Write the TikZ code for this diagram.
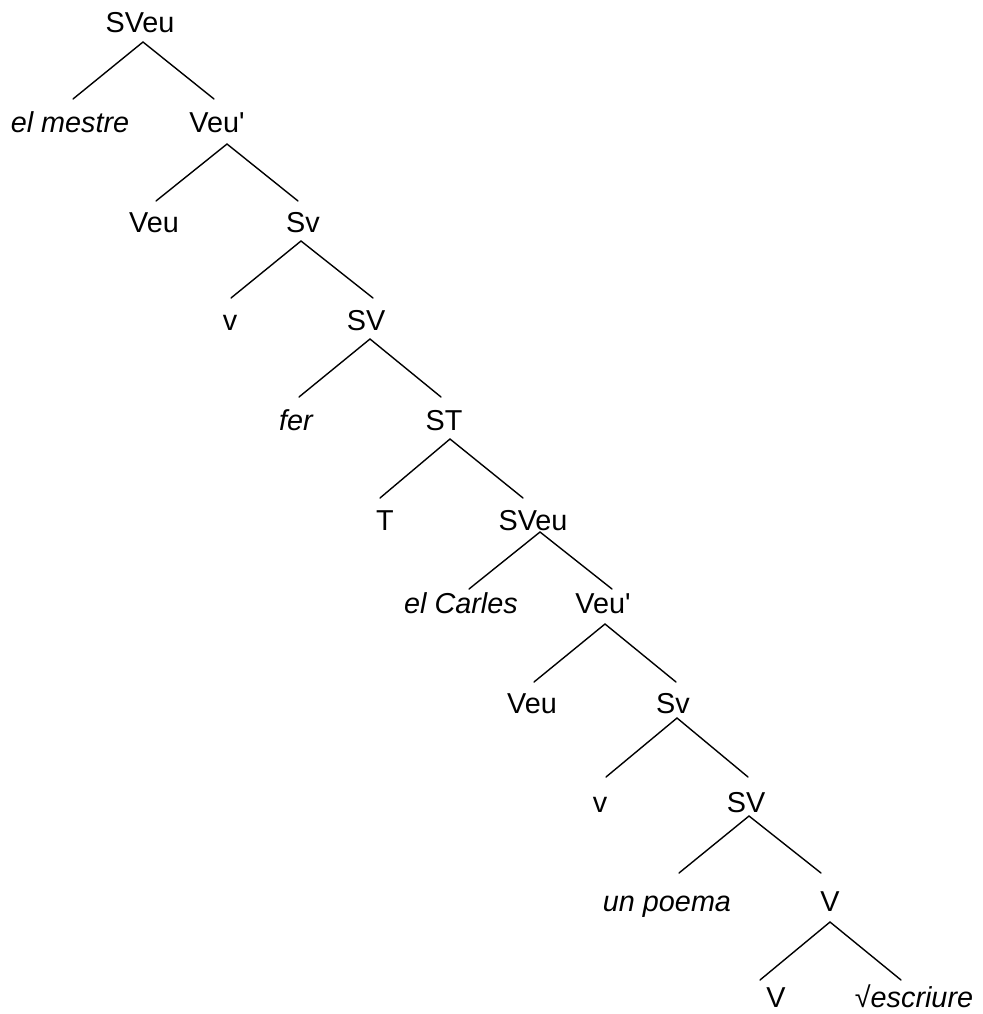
\documentclass[tikz,border=0pt]{standalone}
\usepackage{fontspec}
\setmainfont{Liberation Sans}
\begin{document}
\begin{tikzpicture}[x=1pt,y=-1pt,
  lbl/.style={anchor=base,inner sep=0pt,font=\fontsize{28.8}{34}\selectfont},
  it/.style={lbl,font=\fontsize{28.8}{34}\selectfont\itshape},
  branch/.style={line width=1.4pt,line cap=round}]
\useasboundingbox (0,0) rectangle (982,1014);

% labels, placed on their baselines
\node[lbl] (n0)  at (140,33)  {SVeu};
\node[it]  (n1a) at (70,132)  {el mestre};
\node[lbl] (n1b) at (217,132) {Veu\textquotesingle};
\node[lbl] (n2a) at (154,232) {Veu};
\node[lbl] (n2b) at (303,232) {Sv};
\node[lbl] (n3a) at (230,330) {v};
\node[lbl] (n3b) at (366,330) {SV};
\node[it]  (n4a) at (296,430) {fer};
\node[lbl] (n4b) at (444,430) {ST};
\node[lbl] (n5a) at (385,530) {T};
\node[lbl] (n5b) at (533,530) {SVeu};
\node[it]  (n6a) at (461,613) {el Carles};
\node[lbl] (n6b) at (603,613) {Veu\textquotesingle};
\node[lbl] (n7a) at (532,713) {Veu};
\node[lbl] (n7b) at (673,713) {Sv};
\node[lbl] (n8a) at (600,812) {v};
\node[lbl] (n8b) at (746,812) {SV};
\node[it]  (n9a) at (667,911) {un poema};
\node[lbl] (n9b) at (830,911) {V};
\node[lbl] (n10a) at (776,1007) {V};
\node[lbl] (n10b) at (914,1007) {√\textit{escriure}};

% branch tops and feet
\coordinate (t0) at (143,42);  \coordinate (l0) at (73,99);   \coordinate (r0) at (214,99);
\coordinate (t1) at (227,144); \coordinate (l1) at (156,201); \coordinate (r1) at (298,201);
\coordinate (t2) at (301,241); \coordinate (l2) at (231,298); \coordinate (r2) at (373,298);
\coordinate (t3) at (370,339); \coordinate (l3) at (299,397); \coordinate (r3) at (441,397);
\coordinate (t4) at (450,439); \coordinate (l4) at (380,498); \coordinate (r4) at (523,498);
\coordinate (t5) at (540,532); \coordinate (l5) at (469,589); \coordinate (r5) at (612,589);
\coordinate (t6) at (605,624); \coordinate (l6) at (534,682); \coordinate (r6) at (676,682);
\coordinate (t7) at (677,718); \coordinate (l7) at (606,777); \coordinate (r7) at (748,777);
\coordinate (t8) at (749,816); \coordinate (l8) at (679,873); \coordinate (r8) at (821,873);
\coordinate (t9) at (830,922); \coordinate (l9) at (760,980); \coordinate (r9) at (901,980);

\foreach \i in {0,...,9}{
  \draw[branch] (l\i) -- (t\i) -- (r\i);
}
\end{tikzpicture}
\end{document}
